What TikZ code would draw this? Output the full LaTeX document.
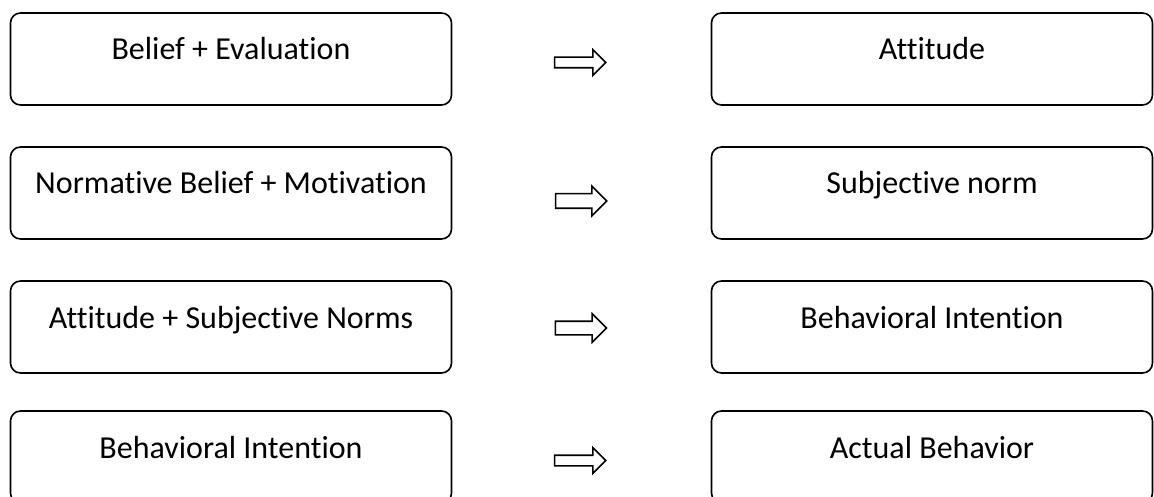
\documentclass[tikz,border=0pt]{standalone}
\usepackage{fontspec}
\setmainfont{Carlito}[Ligatures={NoCommon}]
\usetikzlibrary{shapes.arrows}
\begin{document}
\begin{tikzpicture}[x=1pt,y=-1pt,
  stagebox/.style={draw, line width=1.6pt, rounded corners=10pt,
    minimum width=441pt, minimum height=92pt, inner sep=0pt,
    text height=22pt, text depth=20pt,
    font=\fontsize{32}{38}\selectfont},
  blockarrow/.style={draw, line width=1.6pt, single arrow, shape border rotate=0,
    minimum height=51pt, inner xsep=0pt, inner ysep=#1,
    single arrow head extend=7.5pt}
]
\clip (0,0) rectangle (1154,497);

% left column: components
\node[stagebox] (l1) at (231,59)  {Belief + Evaluation};
\node[stagebox] (l2) at (231,193) {Normative Belief + Motivation};
\node[stagebox] (l3) at (231,327) {Attitude + Subjective Norms};
\node[stagebox] (l4) at (231,457) {Behavioral Intention};

% right column: outcomes
\node[stagebox] (r1) at (932,59)  {Attitude};
\node[stagebox] (r2) at (932,193) {Subjective norm};
\node[stagebox] (r3) at (932,327) {Behavioral Intention};
\node[stagebox] (r4) at (932,457) {Actual Behavior};

% block arrows between the columns
\node[blockarrow=4.5pt] (a1) at (577.5,62.5) {};
\node[blockarrow=6.5pt] (a2) at (577.5,201)  {};
\node[blockarrow=6pt]   (a3) at (577.5,328)  {};
\node[blockarrow=4.5pt] (a4) at (577.5,460.5) {};
\end{tikzpicture}
\end{document}
